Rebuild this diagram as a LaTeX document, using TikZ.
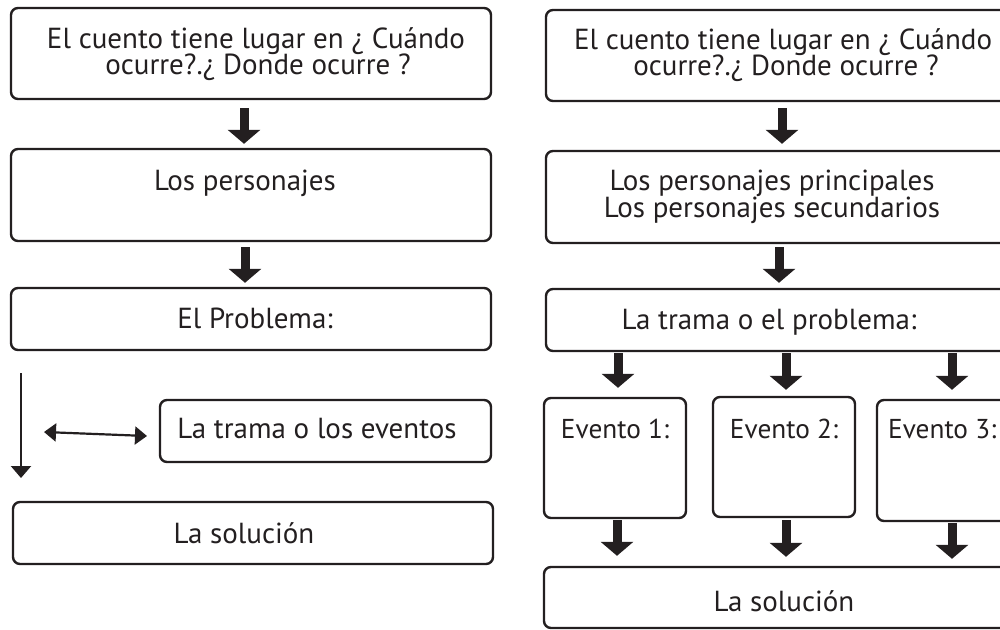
\documentclass[tikz,border=0pt]{standalone}
\usepackage{fontspec}
\setmainfont{PT Sans}
\usetikzlibrary{arrows.meta}
\definecolor{ink}{HTML}{231F20}
\begin{document}
\begin{tikzpicture}[x=1pt,y=-1pt,
  box/.style={draw=ink, line width=2.4pt, rounded corners=7pt, inner sep=0pt, minimum width=#1},
  box/.default=480pt,
  txt/.style={text=ink, font=\fontsize{29}{30}\selectfont, anchor=base, inner sep=0pt},
  evt/.style={txt, font=\fontsize{27.3}{30}\selectfont},
  blk/.style={draw=ink, line width=9pt, -{Triangle[length=14pt,width=32pt]}},
  thin/.style={draw=ink, line width=2.2pt}
]
\useasboundingbox (0,0) rectangle (1000,629);
\clip (0,0) rectangle (1000,629);
\fill[white] (0,0) rectangle (1000,629);

% left column boxes
\node[box, minimum height=91pt] (l1) at (251,53.5) {};
\node[box, minimum height=92pt] (l2) at (251,195) {};
\node[box, minimum height=62pt] (l3) at (251,319) {};
\node[box=331pt, minimum height=62pt] (l4) at (325.5,431) {};
\node[box, minimum height=62pt] (l5) at (253,533) {};

% right column boxes
\node[box=478pt, minimum height=91pt] (r1) at (785,55.5) {};
\node[box=478pt, minimum height=92pt] (r2) at (785,197) {};
\node[box=478pt, minimum height=62pt] (r3) at (785,320) {};
\node[box=142pt, minimum height=120pt] (e1) at (615,458) {};
\node[box=142pt, minimum height=120pt] (e2) at (784,457) {};
\node[box=142pt, minimum height=121pt] (e3) at (948,460.5) {};
\node[box=480pt, minimum height=61pt] (r4) at (784,597.5) {};

% texts left
\node[txt] (t1a) at (256,48) {El cuento tiene lugar en ¿ Cuándo};
\node[txt] (t1b) at (258,74) {ocurre?.¿ Donde ocurre ?};
\node[txt] (t2) at (245,190) {Los personajes};
\node[txt] (t3) at (255,328) {El Problema:};
\node[txt] (t4) at (317,438) {La trama o los eventos};
\node[txt] (t5) at (244,543) {La solución};

% texts right
\node[txt] (u1a) at (783,49) {El cuento tiene lugar en ¿ Cuándo};
\node[txt] (u1b) at (786,75) {ocurre?.¿ Donde ocurre ?};
\node[txt] (u2a) at (772,190) {Los personajes principales};
\node[txt] (u2b) at (772,217) {Los personajes secundarios};
\node[txt] (u3) at (769,329) {La trama o el problema:};
\node[evt] (v1) at (615,438) {Evento 1:};
\node[evt] (v2) at (784,438) {Evento 2:};
\node[evt, anchor=base west] (v3) at (888,438) {Evento 3:};
\node[txt] (u4) at (784,611) {La solución};

% block arrows left
\draw[blk, shorten <=8pt, shorten >=4pt] (244,0 |- l1.south) -- (244,0 |- l2.north);
\draw[blk, shorten <=5pt, shorten >=4pt] (245,0 |- l2.south) -- (245,0 |- l3.north);

% block arrows right
\draw[blk, shorten <=6pt, shorten >=6pt] (782,0 |- r1.south) -- (782,0 |- r2.north);
\draw[blk, shorten <=3pt, shorten >=5pt] (779,0 |- r2.south) -- (779,0 |- r3.north);
\draw[blk, shorten <=1pt, shorten >=9pt] (618,0 |- r3.south) -- (618,0 |- e1.north);
\draw[blk, shorten <=1pt, shorten >=6pt] (786,0 |- r3.south) -- (786,0 |- e2.north);
\draw[blk, shorten <=1pt, shorten >=9pt] (952,0 |- r3.south) -- (952,0 |- e3.north);
\draw[blk, shorten <=1pt, shorten >=10pt] (617,0 |- e1.south) -- (617,0 |- r4.north);
\draw[blk, shorten <=2pt, shorten >=9pt] (786,0 |- e2.south) -- (786,0 |- r4.north);
\draw[blk, shorten <=1pt, shorten >=7pt] (952,0 |- e3.south) -- (952,0 |- r4.north);

% thin arrows
\coordinate (p1) at (21,373);
\coordinate (p2) at (21,478);
\draw[thin, -{Triangle[length=12pt,width=20pt]}] (p1) -- (p2);
\coordinate (q1) at (44,432);
\coordinate (q2) at (147,436);
\draw[thin, {Triangle[length=12pt,width=18pt]}-{Triangle[length=12pt,width=18pt]}] (q1) -- (q2);
\end{tikzpicture}
\end{document}
